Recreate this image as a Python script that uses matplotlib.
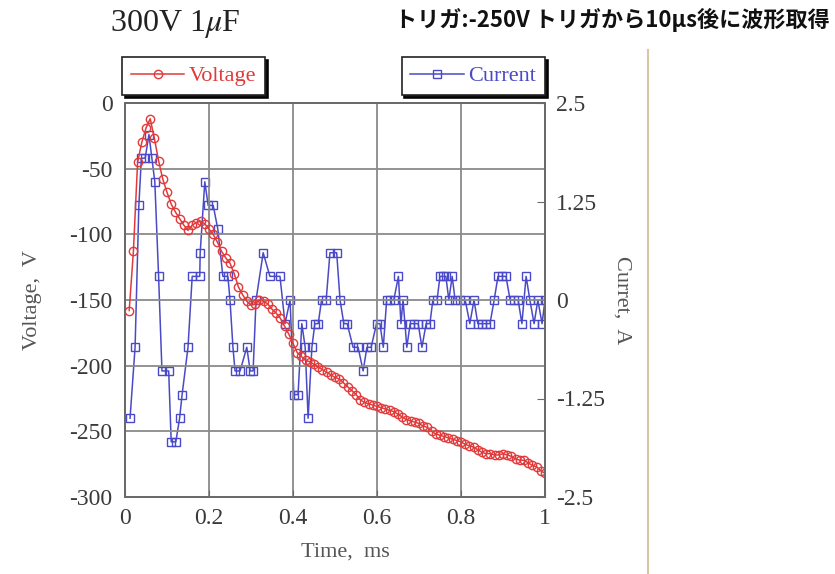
import numpy as np
import matplotlib.pyplot as plt
from matplotlib.lines import Line2D

plt.rcParams['font.family'] = ['Liberation Serif', 'DejaVu Serif']
plt.rcParams['mathtext.fontset'] = 'stix'
plt.rcParams['axes.unicode_minus'] = False

# Voltage trace, sampled every 0.01 ms
v_time = [round(0.01 * i, 2) for i in range(1, 101)]
voltage = [-158, -113, -45, -30, -19, -12, -27, -44, -58, -68,
           -77, -83, -88, -93, -97, -93, -91, -90, -92, -96,
           -100, -106, -113, -118, -122, -130, -140, -146, -151, -154,
           -153, -150, -151, -153, -157, -160, -164, -170, -176, -183,
           -190, -193, -196, -197, -199, -201, -203, -205, -207, -209,
           -210, -213, -216, -219, -222, -226, -228, -229, -230, -231,
           -232, -233, -234, -235, -237, -239, -241, -242, -243, -244,
           -246, -247, -250, -252, -253, -254, -255, -256, -257, -258,
           -260, -261, -262, -264, -266, -267, -267, -268, -268, -267,
           -268, -269, -271, -272, -272, -274, -276, -277, -280, -282]

# Current trace
i_time = [0.012, 0.024, 0.033, 0.039, 0.048, 0.057, 0.064, 0.071, 0.080, 0.088,
          0.104, 0.110, 0.121, 0.130, 0.136, 0.150, 0.160, 0.178, 0.179, 0.190,
          0.198, 0.210, 0.221, 0.233, 0.245, 0.250, 0.257, 0.262, 0.274, 0.290,
          0.298, 0.305, 0.312, 0.329, 0.345, 0.369, 0.381, 0.393, 0.402, 0.412,
          0.421, 0.429, 0.436, 0.445, 0.452, 0.460, 0.468, 0.479, 0.488, 0.504,
          0.512, 0.521, 0.529, 0.543, 0.555, 0.567, 0.576, 0.586, 0.599, 0.607,
          0.615, 0.623, 0.631, 0.640, 0.651, 0.657, 0.662, 0.671, 0.679, 0.688,
          0.698, 0.707, 0.717, 0.726, 0.733, 0.743, 0.750, 0.757, 0.764, 0.771,
          0.779, 0.786, 0.798, 0.810, 0.821, 0.831, 0.840, 0.850, 0.860, 0.869,
          0.879, 0.888, 0.898, 0.907, 0.917, 0.926, 0.936, 0.945, 0.955, 0.964,
          0.974, 0.983, 0.993, 1.000]
current = [-1.5, -0.6, 1.2, 1.8, 1.8, 2.1, 1.8, 1.5, 0.3, -0.9,
           -0.9, -1.8, -1.8, -1.5, -1.2, -0.6, 0.3, 0.3, 0.6, 1.5,
           1.2, 1.2, 0.9, 0.3, 0.3, 0.0, -0.6, -0.9, -0.9, -0.6,
           -0.9, -0.9, 0.0, 0.6, 0.3, 0.3, -0.3, 0.0, -1.2, -1.2,
           -0.3, -0.6, -1.5, -0.6, -0.3, -0.3, 0.0, 0.0, 0.6, 0.6,
           0.0, -0.3, -0.3, -0.6, -0.6, -0.9, -0.6, -0.6, -0.3, -0.3,
           -0.6, 0.0, 0.0, 0.0, 0.3, -0.3, 0.0, -0.6, -0.3, -0.3,
           -0.3, -0.6, -0.3, -0.3, 0.0, 0.0, 0.3, 0.3, 0.3, 0.0,
           0.3, 0.0, 0.0, 0.0, -0.3, 0.0, -0.3, -0.3, -0.3, -0.3,
           0.0, 0.3, 0.3, 0.3, 0.0, 0.0, 0.0, -0.3, 0.3, 0.0,
           -0.3, 0.0, -0.3, 0.0]

v_ticks = [0, -50, -100, -150, -200, -250, -300]
i_ticks = [2.5, 1.25, 0, -1.25, -2.5]
i_tick_labels = ['2.5', '1.25', '0', '-1.25', '-2.5']
t_ticks = [0, 0.2, 0.4, 0.6, 0.8, 1]
t_tick_labels = ['0', '0.2', '0.4', '0.6', '0.8', '1']

red = '#e23a3a'
blue = '#4a4ac8'
text_col = '#3a3a3a'

fig = plt.figure(figsize=(8.35, 5.74), dpi=100)
ax = fig.add_axes([125 / 835, 1 - 497 / 574, 420 / 835, 394 / 574])
ax2 = ax.twinx()

ax2.plot(i_time, current, color=blue, lw=1.1, marker='s', ms=5.5,
         mfc='none', mec=blue, mew=1.0, label='Current')
ax.plot(v_time, voltage, color=red, lw=1.1, marker='o', ms=6,
        mfc='none', mec=red, mew=1.0, label='Voltage')

# voltage on top of current
ax.set_zorder(ax2.get_zorder() + 1)
ax.patch.set_visible(False)

ax.set_xlim(0, 1)
ax.set_ylim(-300, 0)
ax2.set_ylim(-2.5, 2.5)
ax.set_xticks(t_ticks, t_tick_labels)
ax.set_yticks(v_ticks)
ax2.set_yticks(i_ticks, i_tick_labels)

ax.grid(True, color='#8a8a8a', lw=1.3)
for a in (ax, ax2):
    for s in a.spines.values():
        s.set_color('#6a6a6a')
        s.set_linewidth(1.4)

ax.tick_params(axis='y', length=0, pad=9, labelsize=17, labelcolor=text_col)
ax.tick_params(axis='x', direction='in', length=5, color='#6a6a6a', pad=8,
               labelsize=17, labelcolor=text_col)
ax2.tick_params(axis='y', direction='in', length=6, color='#6a6a6a', pad=8,
                labelsize=17, labelcolor=text_col)

ax.set_ylabel('Voltage,  V', fontsize=16, color='#555555')
ax.yaxis.set_label_coords(-0.198, 0.5)
ax.set_xlabel('Time,  ms', fontsize=16, color='#555555', va='top')
ax.xaxis.set_label_coords(0.524, -0.115)
ax2.set_ylabel('Curret,  A', fontsize=16, color='#555555', rotation=-90, va='bottom')
ax2.yaxis.set_label_coords(1.16, 0.5)

shadow = {'color': 'black', 'alpha': 0.95}
leg1 = ax.legend(loc='upper left', bbox_to_anchor=(122 / 835, 1 - 57 / 574),
                 bbox_transform=fig.transFigure, borderaxespad=0, fancybox=False,
                 shadow=shadow, framealpha=1, edgecolor='#222222', numpoints=1,
                 handlelength=2.4, handletextpad=0.2, fontsize=16,
                 labelcolor=red, borderpad=0.4)
leg1.get_frame().set_linewidth(1.2)
leg2 = ax2.legend(loc='upper right', bbox_to_anchor=(545 / 835, 1 - 57 / 574),
                  bbox_transform=fig.transFigure, borderaxespad=0, fancybox=False,
                  shadow=shadow, framealpha=1, edgecolor='#222222', numpoints=1,
                  handlelength=2.4, handletextpad=0.2, fontsize=16,
                  labelcolor=blue, borderpad=0.4)
leg2.get_frame().set_linewidth(1.2)

fig.text(110 / 835, 1 - 24 / 574, '300V 1$\\mu$F', fontsize=23, color='#222222',
         va='center', ha='left')
fig.text(395 / 835, 1 - 20 / 574, 'トリガ:-250V トリガから10μs後に波形取得',
         family=['Noto Sans CJK JP', 'DejaVu Sans'], fontsize=15.9, fontweight='bold',
         color='#111111', va='center', ha='left')

fig.add_artist(Line2D([648 / 835, 648 / 835], [0, 1 - 50 / 574],
                      transform=fig.transFigure, color='#d6c7a4', lw=1.5))

fig.savefig('out.png', dpi=100, facecolor='white')
